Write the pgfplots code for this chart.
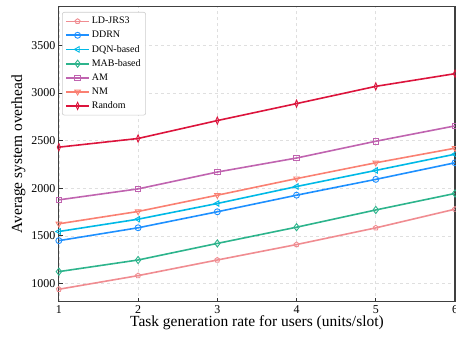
\documentclass[border=0pt]{standalone}
\usepackage{fontspec}
\setmainfont{Liberation Serif}
\usepackage{pgfplots}
\pgfplotsset{compat=1.18}
\definecolor{cLD}{RGB}{240,140,145}
\definecolor{cDDRN}{RGB}{30,144,255}
\definecolor{cDQN}{RGB}{0,185,230}
\definecolor{cMAB}{RGB}{45,180,140}
\definecolor{cAM}{RGB}{192,100,176}
\definecolor{cNM}{RGB}{250,128,114}
\definecolor{cRand}{RGB}{220,20,60}
\pgfplotsset{
  mylegimg/.style={legend image code/.code={\draw[mark repeat=2,mark phase=2,line width=1.6pt,##1] plot coordinates {(0pt,0pt) (11.5pt,0pt) (23pt,0pt)};}},
}
\begin{document}
\begin{tikzpicture}
\begin{axis}[
  at={(0,0)}, anchor=south west,
  scale only axis, width=397pt, height=295.6pt,
  xmin=1, xmax=6, ymin=810, ymax=3905,
  xtick={1,2,3,4,5,6}, ytick={1000,1500,2000,2500,3000,3500},
  tick align=inside, xtick pos=bottom, ytick pos=left,
  major tick length=4pt,
  tick style={line width=0.8pt, black!80},
  grid=major, grid style={dashed, gray!25, line width=0.6pt},
  axis line style={line width=1.1pt, black!75},
  tick label style={font=\fontsize{12}{14}\selectfont},
  label style={font=\fontsize{15.5}{18}\selectfont},
  /pgf/number format/assume math mode=true,
  /pgf/number format/1000 sep={},
  xlabel={Task generation rate for users (units/slot)},
  ylabel={Average system overhead},
  xlabel style={yshift=4pt},
  ylabel style={yshift=-1pt},
  legend cell align=left,
  legend style={at={(0.008,0.982)}, anchor=north west,
    font=\fontsize{10}{12}\selectfont, draw=gray!40, rounded corners=2pt,
    line width=0.6pt, row sep=1.9pt, inner sep=3pt,
    /tikz/every even column/.append style={column sep=8pt}},
  every axis plot/.append style={line width=1.6pt, mylegimg},
]
\addplot[cLD, mark=pentagon, mark size=2.6pt, mark options={line width=0.9pt}] coordinates {(1,940) (2,1083) (3,1247) (4,1409) (5,1584) (6,1780)};
\addlegendentry{LD-JRS3}
\addplot[cDDRN, mark=o, mark size=3pt, mark options={line width=0.9pt}] coordinates {(1,1450) (2,1585) (3,1753) (4,1927) (5,2093) (6,2267)};
\addlegendentry{DDRN}
\addplot[cDQN, mark=triangle, mark size=3.2pt, mark options={rotate=90, line width=0.9pt}] coordinates {(1,1546) (2,1675) (3,1840) (4,2018) (5,2187) (6,2357)};
\addlegendentry{DQN-based}
\addplot[cMAB, mark=diamond, mark size=3.6pt, mark options={line width=0.9pt}] coordinates {(1,1125) (2,1247) (3,1421) (4,1591) (5,1772) (6,1945)};
\addlegendentry{MAB-based}
\addplot[cAM, mark=square, mark size=2.8pt, mark options={line width=0.9pt}] coordinates {(1,1878) (2,1993) (3,2170) (4,2317) (5,2493) (6,2654)};
\addlegendentry{AM}
\addplot[cNM, mark=triangle, mark size=3.2pt, mark options={rotate=180, line width=0.9pt}] coordinates {(1,1627) (2,1756) (3,1927) (4,2101) (5,2267) (6,2420)};
\addlegendentry{NM}
\addplot[cRand, mark=diamond, mark size=3.6pt, mark options={xscale=0.6, line width=0.9pt}] coordinates {(1,2431) (2,2522) (3,2710) (4,2888) (5,3069) (6,3202)};
\addlegendentry{Random}
\end{axis}
\pgfresetboundingbox
\path[use as bounding box] (-59pt,-34.7pt) rectangle (398pt,302.3pt);
\end{tikzpicture}
\end{document}
